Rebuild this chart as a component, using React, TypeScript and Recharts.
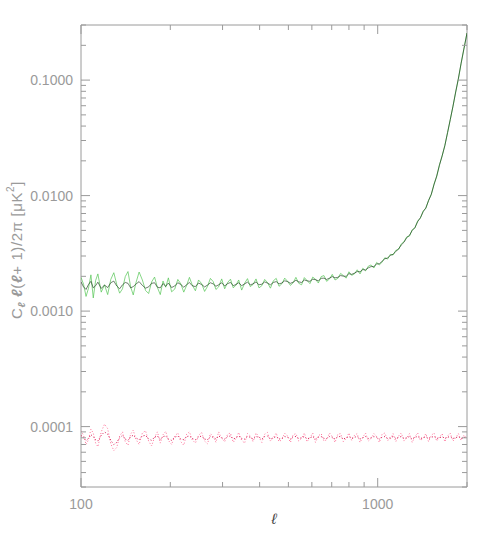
import React from 'react';
import { ComposedChart, Line, XAxis, YAxis, ReferenceArea } from 'recharts';

// multipole l
const ell = [
  100, 102, 104, 106, 108, 110, 112, 114, 117, 120,
  123, 126, 129, 132, 135, 138, 141, 144, 147, 150,
  153, 157, 161, 165, 169, 173, 177, 181, 185, 189,
  193, 197, 202, 207, 212, 217, 222, 227, 232, 237,
  243, 249, 255, 261, 267, 273, 279, 285, 291, 298,
  305, 312, 319, 326, 333, 340, 348, 356, 364, 372,
  380, 389, 398, 407, 416, 425, 435, 445, 455, 465,
  475, 486, 497, 508, 519, 530, 542, 554, 566, 578,
  591, 604, 617, 631, 645, 659, 673, 688, 703, 718,
  734, 750, 766, 783, 800, 817, 835, 853, 872, 891,
  910, 930, 950, 971, 992, 1013, 1035, 1057, 1080, 1103,
  1127, 1151, 1176, 1201, 1227, 1253, 1280, 1307, 1335, 1364,
  1393, 1423, 1453, 1484, 1516, 1548, 1581, 1615, 1649, 1684,
  1720, 1757, 1794, 1832, 1871, 1911, 1952, 2000,
];

// green spectrum, units of 1e-4 uK^2
const greenNoisy = [
  19.6, 17.1, 13.4, 15.8, 20.6, 13.0, 18.4, 21.0, 14.6, 16.9,
  13.9, 18.8, 21.5, 17.0, 14.3, 15.6, 19.9, 22.0, 16.2, 13.8,
  17.4, 21.8, 18.6, 15.1, 14.2, 17.9, 19.7, 16.0, 13.9, 18.2,
  16.1, 19.4, 14.7, 15.5, 18.8, 17.2, 14.6, 16.7, 19.6, 16.9,
  15.0, 18.6, 17.3, 14.8, 16.4, 19.2, 18.0, 15.4, 16.2, 19.0,
  15.6, 17.7, 18.9, 15.9, 16.8, 18.6, 15.2, 17.4, 19.1, 16.3,
  17.0, 19.0, 15.9, 16.6, 18.8, 17.7, 15.8, 18.3, 19.2, 16.4,
  17.2, 19.3, 18.1, 16.7, 17.6, 19.6, 17.4, 16.9, 19.5, 18.4,
  17.3, 19.7, 18.9, 17.5, 19.9, 20.3, 18.1, 19.0, 20.8, 18.6,
  19.2, 21.2, 20.3, 19.3, 21.9, 20.4, 21.0, 22.8, 21.0, 23.5,
  22.3, 24.5, 25.1, 23.6, 26.4, 25.1, 26.6, 29.0, 28.2, 31.0,
  30.6, 33.6, 34.2, 38.2, 40.0, 43.9, 44.6, 50.5, 52.4, 60.4,
  63.8, 73.4, 77.6, 91.2, 102, 126, 146, 185, 220, 272,
  350, 458, 592, 790, 1020, 1400, 1850, 2560,
];

const greenDark = [
  17.9, 16.2, 15.4, 17.0, 18.1, 15.9, 16.6, 17.8, 15.7, 16.8,
  16.0, 17.6, 18.2, 16.5, 15.6, 16.9, 17.7, 17.4, 15.9, 16.3,
  17.1, 18.0, 16.7, 15.8, 16.2, 17.4, 17.6, 16.1, 15.9, 17.3,
  16.4, 17.5, 16.0, 16.5, 17.6, 17.0, 16.1, 16.9, 17.7, 16.6,
  16.3, 17.5, 17.0, 16.2, 16.8, 17.6, 17.2, 16.4, 16.9, 17.6,
  16.5, 17.3, 17.7, 16.6, 17.0, 17.6, 16.6, 17.2, 17.8, 16.9,
  17.2, 17.9, 16.9, 17.1, 17.9, 17.5, 16.9, 17.7, 18.0, 17.2,
  17.5, 18.3, 18.0, 17.4, 17.8, 18.5, 17.9, 17.7, 18.6, 18.3,
  18.1, 18.9, 18.7, 18.3, 19.2, 19.3, 18.8, 19.3, 19.9, 19.4,
  19.6, 20.3, 20.1, 20.0, 21.1, 20.8, 21.3, 22.0, 21.9, 22.9,
  22.7, 23.7, 24.3, 24.3, 25.6, 25.7, 27.0, 28.4, 28.8, 30.4,
  31.0, 32.9, 34.5, 37.4, 39.5, 43.3, 45.3, 49.9, 52.9, 59.5,
  64.4, 72.5, 78.3, 90.3, 103, 124, 148, 183, 221, 270,
  352, 456, 596, 789, 1040, 1402, 1862, 2555,
];

// red spectrum, units of 1e-6 uK^2
const redNoisy = [
  92, 84, 70, 77, 95, 88, 72, 67, 90, 105,
  96, 71, 62, 66, 83, 90, 74, 69, 86, 93,
  78, 70, 88, 92, 75, 68, 81, 90, 72, 85,
  91, 76, 70, 83, 88, 74, 69, 86, 90, 77,
  72, 84, 89, 75, 71, 87, 82, 73, 90, 79,
  74, 86, 88, 73, 79, 89, 76, 72, 87, 83,
  74, 88, 81, 73, 86, 89, 75, 80, 88, 74,
  77, 88, 83, 73, 85, 87, 75, 79, 88, 74,
  80, 88, 73, 83, 87, 75, 77, 88, 82, 73,
  86, 87, 74, 79, 88, 76, 84, 87, 73, 81,
  88, 75, 79, 87, 82, 73, 86, 88, 76, 78,
  87, 74, 83, 88, 75, 80, 87, 73, 82, 88,
  76, 79, 87, 74, 84, 88, 75, 81, 87, 74,
  83, 88, 75, 80, 87, 76, 84, 79,
];

const redDark = [
  84, 80, 76, 79, 85, 82, 77, 75, 84, 90,
  86, 76, 70, 73, 80, 84, 78, 76, 82, 84,
  80, 77, 83, 84, 78, 76, 81, 83, 77, 82,
  83, 78, 76, 81, 83, 78, 77, 82, 83, 79,
  77, 81, 83, 78, 77, 82, 81, 78, 83, 80,
  78, 82, 83, 78, 80, 83, 79, 78, 82, 81,
  78, 82, 81, 78, 82, 83, 78, 80, 82, 78,
  79, 82, 81, 78, 82, 82, 79, 80, 82, 78,
  80, 82, 78, 81, 82, 79, 79, 82, 81, 78,
  82, 82, 78, 80, 82, 79, 81, 82, 78, 80,
  82, 79, 80, 82, 81, 78, 81, 82, 79, 80,
  82, 79, 81, 82, 79, 80, 82, 78, 81, 82,
  79, 80, 82, 79, 81, 82, 79, 80, 82, 79,
  81, 82, 79, 80, 82, 79, 81, 80,
];

const xTicks = [100, 200, 300, 400, 500, 600, 700, 800, 900, 1000, 2000];
const xMajor = [100, 1000];
const yTicks = [
  3e-5, 4e-5, 5e-5, 6e-5, 7e-5, 8e-5, 9e-5,
  1e-4, 2e-4, 3e-4, 4e-4, 5e-4, 6e-4, 7e-4, 8e-4, 9e-4,
  1e-3, 2e-3, 3e-3, 4e-3, 5e-3, 6e-3, 7e-3, 8e-3, 9e-3,
  1e-2, 2e-2, 3e-2, 4e-2, 5e-2, 6e-2, 7e-2, 8e-2, 9e-2,
  0.1, 0.2, 0.3,
];
const yMajor = [1e-4, 1e-3, 1e-2, 0.1];

const data = ell.map((l, i) => ({
  l,
  g: greenNoisy[i] * 1e-4,
  gd: greenDark[i] * 1e-4,
  r: redNoisy[i] * 1e-6,
  rd: redDark[i] * 1e-6,
}));

const W = 491;
const H = 540;
const TOP = 25;
const BOTTOM = 487;
const LEFT = 81;
const RIGHT = 467;
const GREY = '#9a9a9a';
const FONT = '"Liberation Sans", Arial, sans-serif';

const XTick = (props: any) => {
  const { x, y, payload } = props;
  const major = xMajor.includes(payload.value);
  const len = major ? 9 : 5;
  return (
    <g>
      <line x1={x} y1={y} x2={x} y2={y - len} stroke={GREY} />
      <line x1={x} y1={TOP} x2={x} y2={TOP + len} stroke={GREY} />
      {major && (
        <text x={x} y={y + 22} textAnchor="middle" fill={GREY} fontSize={14} fontFamily={FONT}>
          {payload.value}
        </text>
      )}
    </g>
  );
};

const YTick = (props: any) => {
  const { x, y, payload } = props;
  const major = yMajor.some((m) => Math.abs(m - payload.value) / m < 1e-6);
  const len = major ? 9 : 5;
  return (
    <g>
      <line x1={x} y1={y} x2={x + len} y2={y} stroke={GREY} />
      <line x1={RIGHT - len} y1={y} x2={RIGHT} y2={y} stroke={GREY} />
      {major && (
        <text x={x - 8} y={y + 5} textAnchor="end" fill={GREY} fontSize={14} fontFamily={FONT}>
          {payload.value.toFixed(4)}
        </text>
      )}
    </g>
  );
};

const YLabel = () => {
  const cx = 16;
  const cy = (TOP + BOTTOM) / 2 - 6;
  return (
    <text
      x={cx}
      y={cy}
      transform={`rotate(-90 ${cx} ${cy})`}
      textAnchor="middle"
      dominantBaseline="central"
      fill={GREY}
      fontSize={15}
      letterSpacing={0.6}
      fontFamily={FONT}
    >
      C<tspan baselineShift="sub" fontSize={10} fontStyle="italic" fontWeight="bold">ℓ</tspan>
      <tspan fontStyle="italic" fontWeight="bold"> ℓ</tspan>(<tspan fontStyle="italic" fontWeight="bold">ℓ</tspan>+ 1)/2π  [μK
      <tspan baselineShift="super" fontSize={10}>2</tspan>]
    </text>
  );
};

const XLabel = () => (
  <text
    x={(LEFT + RIGHT) / 2}
    y={524}
    textAnchor="middle"
    fill="#444"
    fontSize={15}
    fontStyle="italic"
    fontFamily={FONT}
  >
    ℓ
  </text>
);

export default function App() {
  return (
    <div style={{ position: 'absolute', left: 0, top: 0, background: '#fff' }}>
      <ComposedChart
        width={W}
        height={H}
        data={data}
        margin={{ top: TOP, right: W - RIGHT, bottom: 0, left: 0 }}
      >
        <XAxis
          dataKey="l"
          type="number"
          scale="log"
          domain={[100, 2000]}
          allowDataOverflow
          ticks={xTicks}
          interval={0}
          tick={<XTick />}
          tickLine={false}
          tickSize={0}
          tickMargin={0}
          axisLine={false}
          height={H - BOTTOM}
          label={<XLabel />}
        />
        <YAxis
          type="number"
          scale="log"
          domain={[3e-5, 0.3]}
          allowDataOverflow
          ticks={yTicks}
          interval={0}
          tick={<YTick />}
          tickLine={false}
          tickSize={0}
          tickMargin={0}
          axisLine={false}
          width={LEFT}
          label={<YLabel />}
        />
        <ReferenceArea
          x1={100}
          x2={2000}
          y1={3e-5}
          y2={0.3}
          fill="none"
          stroke={GREY}
          strokeWidth={1}
          ifOverflow="visible"
        />
        <Line
          dataKey="g"
          type="linear"
          stroke="#52c452"
          strokeWidth={0.7}
          dot={false}
          isAnimationActive={false}
        />
        <Line
          dataKey="gd"
          type="linear"
          stroke="#0b2a0b"
          strokeWidth={0.7}
          strokeOpacity={0.85}
          dot={false}
          isAnimationActive={false}
        />
        <Line
          dataKey="r"
          type="linear"
          stroke="#ff6f98"
          strokeWidth={1}
          strokeDasharray="1 2"
          dot={false}
          isAnimationActive={false}
        />
        <Line
          dataKey="rd"
          type="linear"
          stroke="#d6104c"
          strokeWidth={1}
          strokeDasharray="1 2"
          dot={false}
          isAnimationActive={false}
        />
      </ComposedChart>
    </div>
  );
}
